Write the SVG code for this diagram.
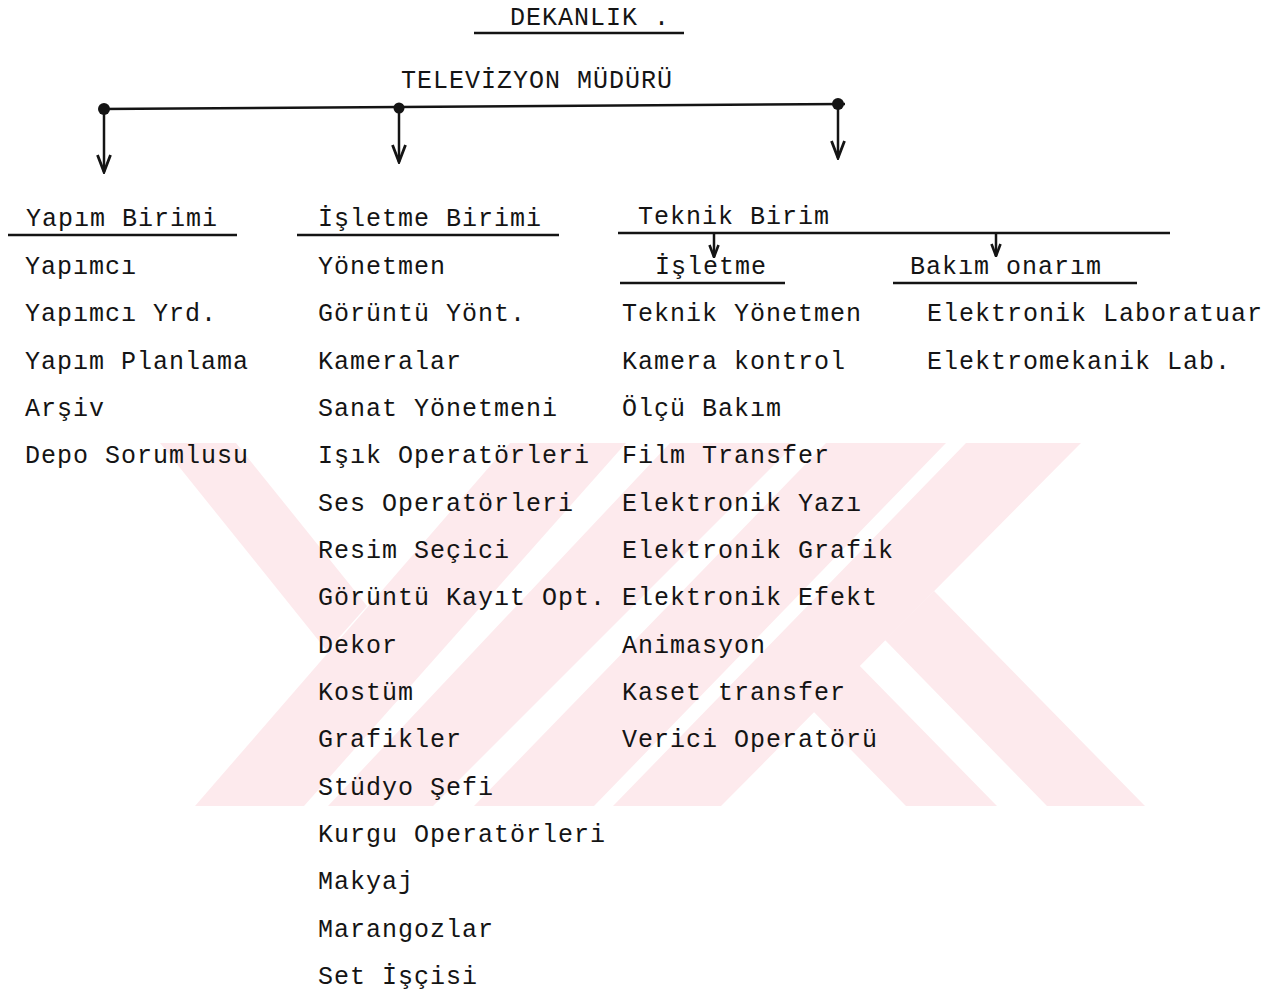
<svg xmlns="http://www.w3.org/2000/svg" width="1281" height="996" viewBox="0 0 1281 996">
<style>
.t{font-family:"Liberation Mono","DejaVu Sans Mono",monospace;font-size:25px;letter-spacing:1px;fill:#141414}
.ln{stroke:#141414;stroke-width:2.5;fill:none}
.wm{fill:#fdeaed}
</style>
<defs>
<clipPath id="wmclip"><rect x="0" y="443" width="1281" height="363"/></clipPath>
<marker id="arr" markerUnits="userSpaceOnUse" markerWidth="20" markerHeight="16" viewBox="0 0 20 16" refX="18" refY="8" orient="auto">
<path d="M1,1.5 L18,8 L1,14.5" fill="none" stroke="#141414" stroke-width="2.8"/>
</marker>
<marker id="arrs" markerUnits="userSpaceOnUse" markerWidth="14" markerHeight="12" viewBox="0 0 14 12" refX="13" refY="6" orient="auto">
<path d="M1,1.5 L13,6 L1,10.5" fill="none" stroke="#141414" stroke-width="2.6"/>
</marker>
</defs>
<rect width="1281" height="996" fill="#ffffff"/>

<g id="watermark" clip-path="url(#wmclip)">
<polygon class="wm" points="160,443 236,443 367,606 327,651"/>
<polygon class="wm" points="510,443 626,443 304,806 195,806"/>
<polygon class="wm" points="670,443 796,443 433,806 328,806"/>
<polygon class="wm" points="826,443 946,443 594,806 474,806"/>
<polygon class="wm" points="966,443 1081,443 721,806 613,806"/>
<polygon class="wm" points="759,656 805,610 997,806 906,806"/>
<polygon class="wm" points="885,640 934,591 1145,806 1047,806"/>
</g>

<g id="connectors">
<path class="ln" d="M100,109 L845,104"/>
<circle cx="104" cy="109" r="6" fill="#141414"/>
<circle cx="399" cy="108" r="5.5" fill="#141414"/>
<circle cx="838" cy="104" r="6" fill="#141414"/>
<path class="ln" d="M104,109 L104,172" marker-end="url(#arr)"/>
<path class="ln" d="M399,108 L399,162" marker-end="url(#arr)"/>
<path class="ln" d="M838,104 L838,158" marker-end="url(#arr)"/>
<path class="ln" d="M714,233 L714,257" marker-end="url(#arrs)"/>
<path class="ln" d="M996,233 L996,256" marker-end="url(#arrs)"/>
</g>

<g id="dekanlik">
<text class="t" x="510" y="25">DEKANLIK .</text>
<path class="ln" d="M474,33 L684,33"/>
</g>

<g id="tv-muduru">
<text class="t" x="401" y="88">TELEVİZYON MÜDÜRÜ</text>
</g>

<g id="yapim-birimi">
<text class="t" x="26" y="226">Yapım Birimi</text>
<path class="ln" d="M8,235 L237,235"/>
<text class="t" x="25" y="274">Yapımcı</text>
<text class="t" x="25" y="321">Yapımcı Yrd.</text>
<text class="t" x="25" y="369">Yapım Planlama</text>
<text class="t" x="25" y="416">Arşiv</text>
<text class="t" x="25" y="463">Depo Sorumlusu</text>
</g>

<g id="isletme-birimi">
<text class="t" x="318" y="226">İşletme Birimi</text>
<path class="ln" d="M297,235 L559,235"/>
<text class="t" x="318" y="274">Yönetmen</text>
<text class="t" x="318" y="321">Görüntü Yönt.</text>
<text class="t" x="318" y="369">Kameralar</text>
<text class="t" x="318" y="416">Sanat Yönetmeni</text>
<text class="t" x="318" y="463">Işık Operatörleri</text>
<text class="t" x="318" y="511">Ses Operatörleri</text>
<text class="t" x="318" y="558">Resim Seçici</text>
<text class="t" x="318" y="605">Görüntü Kayıt Opt.</text>
<text class="t" x="318" y="653">Dekor</text>
<text class="t" x="318" y="700">Kostüm</text>
<text class="t" x="318" y="747">Grafikler</text>
<text class="t" x="318" y="795">Stüdyo Şefi</text>
<text class="t" x="318" y="842">Kurgu Operatörleri</text>
<text class="t" x="318" y="889">Makyaj</text>
<text class="t" x="318" y="937">Marangozlar</text>
<text class="t" x="318" y="984">Set İşçisi</text>
</g>

<g id="teknik-birim">
<text class="t" x="638" y="224">Teknik Birim</text>
<path class="ln" d="M618,233 L1170,233"/>
</g>

<g id="teknik-isletme">
<text class="t" x="655" y="274">İşletme</text>
<path class="ln" d="M620,283 L785,283"/>
<text class="t" x="622" y="321">Teknik Yönetmen</text>
<text class="t" x="622" y="369">Kamera kontrol</text>
<text class="t" x="622" y="416">Ölçü Bakım</text>
<text class="t" x="622" y="463">Film Transfer</text>
<text class="t" x="622" y="511">Elektronik Yazı</text>
<text class="t" x="622" y="558">Elektronik Grafik</text>
<text class="t" x="622" y="605">Elektronik Efekt</text>
<text class="t" x="622" y="653">Animasyon</text>
<text class="t" x="622" y="700">Kaset transfer</text>
<text class="t" x="622" y="747">Verici Operatörü</text>
</g>

<g id="bakim-onarim">
<text class="t" x="910" y="274">Bakım onarım</text>
<path class="ln" d="M893,283 L1137,283"/>
<text class="t" x="927" y="321">Elektronik Laboratuar</text>
<text class="t" x="927" y="369">Elektromekanik Lab.</text>
</g>
</svg>
